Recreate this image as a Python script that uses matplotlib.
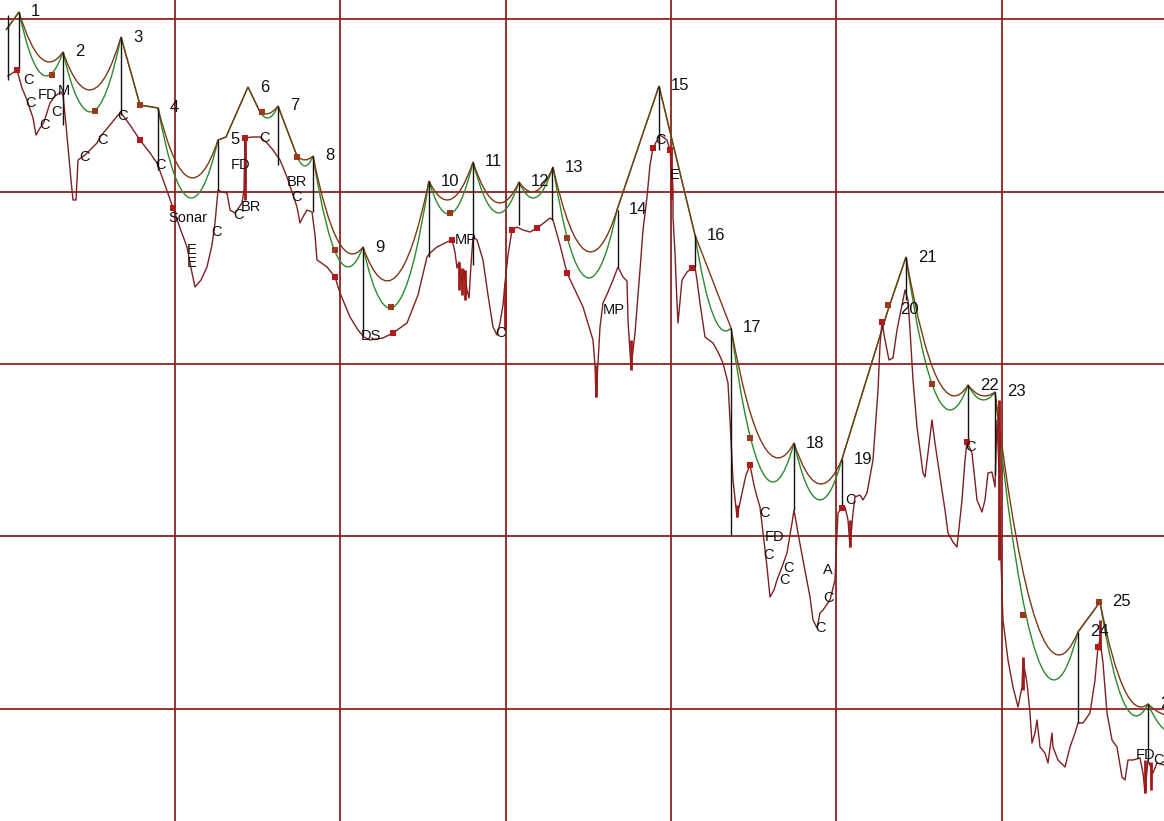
import numpy as np
import matplotlib
matplotlib.use("Agg")
import matplotlib.pyplot as plt
from matplotlib.path import Path
from matplotlib.patches import PathPatch

plt.rcParams['font.family'] = ['Liberation Sans', 'DejaVu Sans']

# --- data (screen-like units: x = bar position, y = level, larger = lower) ---
main_x = [8, 17, 22, 27, 33, 36, 40, 44, 50, 55, 61, 63, 66, 68, 71, 73, 76, 78, 85, 97,
          100, 110, 118, 121, 130, 140, 150, 157, 165, 173, 180, 187, 191, 195, 201, 207, 212, 215, 218, 222,
          227, 230, 235, 242, 244, 245, 252, 260, 267, 273, 280, 287, 293, 297, 300, 304, 307, 312, 315, 317,
          320, 327, 335, 340, 350, 358, 364, 370, 383, 393, 407, 418, 427, 430, 437, 447, 452, 455, 457, 459,
          462, 464, 467, 469, 471, 473, 477, 483, 488, 493, 497, 500, 503, 505, 508, 512, 517, 523, 530, 537,
          545, 550, 553, 560, 567, 575, 583, 590, 593, 595, 596, 598, 600, 603, 608, 613, 618, 623, 627, 628,
          631, 635, 640, 643, 647, 650, 653, 660, 667, 670, 672, 673, 673, 675, 677, 678, 682, 687, 692, 695,
          697, 700, 705, 713, 718, 723, 728, 730, 733, 737, 742, 746, 750, 754, 757, 760, 763, 767, 770, 774,
          777, 782, 787, 792, 794, 798, 803, 810, 813, 817, 820, 823, 830, 835, 837, 838, 842, 845, 848, 850,
          853, 855, 860, 863, 867, 873, 878, 880, 882, 885, 889, 893, 897, 902, 905, 908, 910, 913, 917, 923,
          925, 928, 932, 935, 940, 945, 948, 953, 957, 962, 965, 967, 972, 977, 982, 985, 988, 992, 995, 997,
          999, 1001, 1002, 1003, 1008, 1013, 1018, 1022, 1023, 1027, 1030, 1032, 1035, 1037, 1040, 1045, 1048, 1052, 1053, 1058,
          1065, 1070, 1075, 1078, 1083, 1090, 1095, 1098, 1100, 1103, 1107, 1112, 1117, 1122, 1125, 1128, 1133, 1140, 1143, 1145,
          1148, 1153, 1157, 1164]
main_y = [76, 70, 88, 100, 118, 135, 128, 122, 103, 96, 92, 95, 125, 147, 180, 200, 200, 160, 155, 143,
          137, 125, 115, 113, 125, 140, 153, 163, 185, 208, 228, 247, 268, 287, 280, 267, 245, 223, 190, 192,
          193, 210, 213, 203, 190, 138, 137, 137, 143, 150, 160, 177, 195, 207, 223, 215, 210, 212, 235, 260,
          262, 267, 277, 293, 317, 330, 337, 340, 338, 333, 323, 295, 257, 253, 247, 242, 240, 252, 268, 262,
          283, 270, 290, 298, 265, 237, 240, 260, 295, 327, 335, 323, 305, 283, 255, 230, 227, 230, 232, 228,
          222, 218, 220, 245, 273, 290, 307, 330, 340, 365, 397, 363, 327, 303, 292, 280, 267, 277, 281, 320,
          368, 333, 270, 230, 197, 165, 148, 135, 140, 150, 170, 190, 217, 253, 303, 323, 280, 272, 268, 267,
          280, 303, 337, 343, 352, 363, 383, 420, 480, 517, 493, 475, 465, 485, 497, 507, 533, 567, 597, 590,
          580, 567, 553, 523, 510, 533, 560, 597, 620, 628, 613, 610, 600, 580, 533, 513, 508, 507, 520, 547,
          513, 497, 495, 500, 493, 460, 390, 345, 322, 340, 360, 358, 330, 305, 290, 300, 330, 380, 427, 473,
          477, 453, 420, 443, 477, 510, 533, 542, 547, 500, 460, 442, 453, 500, 512, 500, 473, 472, 487, 420,
          470, 560, 593, 620, 660, 687, 707, 687, 660, 683, 713, 743, 733, 720, 747, 753, 763, 733, 747, 760,
          767, 747, 733, 723, 723, 713, 680, 647, 640, 663, 713, 740, 747, 777, 780, 760, 760, 758, 773, 793,
          760, 773, 763, 765]

# envelope knots (peaks / shoulders) and trough levels for the segment that follows each knot
knot_x = [6, 19, 63, 121, 140, 158, 218, 226, 248, 260, 278, 297, 313, 363, 429, 473, 519, 553,
          617, 659, 695, 731, 794, 842, 888, 906, 968, 995, 1078, 1100, 1148, 1200]
knot_y = [30, 12, 52, 37, 105, 108, 140, 137, 87, 112, 106, 156, 156, 247, 181, 162, 182, 167,
          210, 86, 235, 328, 443, 459, 310, 257, 385, 392, 632, 602, 704, 700]
brown_dip = [None, 62, 90, None, None, 178, None, None, None, 114, None, 160, 254, 281, 200, 203,
             192, 252, None, None, None, 458, 484, None, None, 396, 396, 655, None, 707, 716]
green_dip = [None, 76, 112, None, None, 198, None, None, None, 118, None, 166, 267, 308, 214, 213,
             198, 278, None, None, 331, 482, 500, None, None, 410, 400, 680, None, 716, 733]

peak_labels = {1: "1", 2: "2", 3: "3", 5: "4", 6: "5", 8: "6", 10: "7", 12: "8", 13: "9",
               14: "10", 15: "11", 16: "12", 17: "13", 18: "14", 19: "15", 20: "16", 21: "17",
               22: "18", 23: "19", 24: "20", 25: "21", 26: "22", 27: "23", 28: "24", 29: "25", 30: "26"}

# vertical markers: x, top, bottom
stems = [(8, 15, 80), (19, 12, 70), (63, 52, 125), (121, 37, 115), (158, 108, 170), (218, 140, 190),
         (278, 106, 165), (313, 156, 212), (363, 247, 335), (429, 181, 257), (473, 162, 265),
         (519, 182, 225), (552, 167, 220), (618, 210, 267), (659, 86, 150), (695, 235, 267),
         (731, 328, 535), (794, 443, 510), (842, 459, 508), (906, 257, 300), (968, 385, 440),
         (995, 392, 475), (1078, 632, 723), (1148, 704, 760)]

# red spikes: x, top, bottom
spikes = [(245, 137, 200), (459, 262, 290), (462, 268, 295), (465, 270, 300), (505, 283, 330),
          (596, 365, 397), (631, 340, 370), (671, 150, 200), (737, 505, 517), (850, 520, 547),
          (999, 400, 560), (1023, 657, 690), (1100, 620, 650), (1145, 760, 793), (1151, 762, 790)]

main_dots = [17, 140, 173, 245, 335, 393, 452, 512, 537, 567, 653, 670, 692, 750, 842, 882, 967, 1098]
env_dots_x = [52, 95, 140, 262, 297, 335, 391, 450, 567, 750, 888, 932, 1023, 1099]
env_dots_y = [75, 111, 105, 112, 157, 250, 307, 213, 238, 438, 305, 384, 615, 602]

notes = [("C", 28, 80), ("C", 30, 103), ("C", 45, 125), ("FD", 48, 95), ("M", 64, 91),
         ("C", 56, 112), ("C", 84, 157), ("C", 102, 140), ("C", 123, 116), ("C", 161, 165),
         ("Sonar", 188, 218), ("E", 192, 250), ("E", 192, 263), ("C", 217, 232), ("FD", 241, 165),
         ("C", 238, 215), ("BR", 251, 207), ("C", 264, 138), ("BR", 297, 182), ("C", 297, 197),
         ("DS", 371, 336), ("MP", 466, 240), ("C", 500, 333), ("MP", 614, 310), ("C", 661, 140),
         ("E", 675, 175), ("C", 764, 513), ("FD", 775, 537), ("C", 769, 555), ("C", 788, 568),
         ("C", 784, 580), ("A", 828, 570), ("C", 828, 598), ("C", 820, 628), ("C", 851, 500),
         ("C", 970, 447), ("FD", 1146, 755), ("C", 1159, 760)]

grid_x = [175, 340.3, 505.6, 670.9, 836.2, 1001.5]
grid_y = [19.5, 192, 364.5, 536.5, 709]

MAROON = "#7d2020"
BROWN = "#7a3a14"
GREEN = "#2c8a2c"
GRID = "#8b2323"


def envelope_path(xs, ys, dips):
    verts = [(xs[0], ys[0])]
    codes = [Path.MOVETO]
    for i in range(len(xs) - 1):
        x0, y0, x1, y1 = xs[i], ys[i], xs[i + 1], ys[i + 1]
        d = dips[i]
        if d is None:
            cy = (y0 + y1) / 2
        else:
            d0, d1 = d - y0, d - y1
            t = np.sqrt(d0) / (np.sqrt(d0) + np.sqrt(d1))
            a = d0 / t ** 2
            ymid = d - a * (0.5 - t) ** 2
            cy = 2 * ymid - 0.5 * (y0 + y1)
        verts += [((x0 + x1) / 2, cy), (x1, y1)]
        codes += [Path.CURVE3, Path.CURVE3]
    return Path(verts, codes)


fig = plt.figure(figsize=(11.64, 8.21), dpi=100)
ax = fig.add_axes([0, 0, 1, 1])
ax.set_xlim(0, 1164)
ax.set_ylim(821, 0)
for s in ax.spines.values():
    s.set_visible(False)
ax.set_xticks([])
ax.set_yticks([])

for gx in grid_x:
    ax.axvline(gx, color=GRID, lw=1.3, zorder=1)
for gy in grid_y:
    ax.axhline(gy, color=GRID, lw=1.3, zorder=1)

ax.add_patch(PathPatch(envelope_path(knot_x, knot_y, green_dip), fc="none", ec=GREEN, lw=1.0, zorder=3))
ax.add_patch(PathPatch(envelope_path(knot_x, knot_y, brown_dip), fc="none", ec=BROWN, lw=1.0, zorder=3))

ax.plot(main_x, main_y, color=MAROON, lw=1.0, zorder=4)

for x, top, bot in stems:
    ax.vlines(x, top, bot, color="#111111", lw=1.0, zorder=5)
for x, top, bot in spikes:
    ax.vlines(x, top, bot, color="#a01818", lw=2.0, zorder=5)

ax.scatter(main_dots, np.interp(main_dots, main_x, main_y), s=14, marker="s",
           color="#b01a1a", zorder=6, lw=0)
ax.scatter(env_dots_x, env_dots_y, s=14, marker="s", color="#9a3a1a", zorder=6, lw=0)

for i, lab in peak_labels.items():
    ax.text(knot_x[i] + 12, knot_y[i], lab, fontsize=12, color="#111111",
            ha="left", va="center", zorder=7)

for txt, x, y in notes:
    ax.text(x, y, txt, fontsize=10.5, color="#111111", ha="center", va="center", zorder=7)

fig.savefig("out.png", dpi=100, facecolor="white")
